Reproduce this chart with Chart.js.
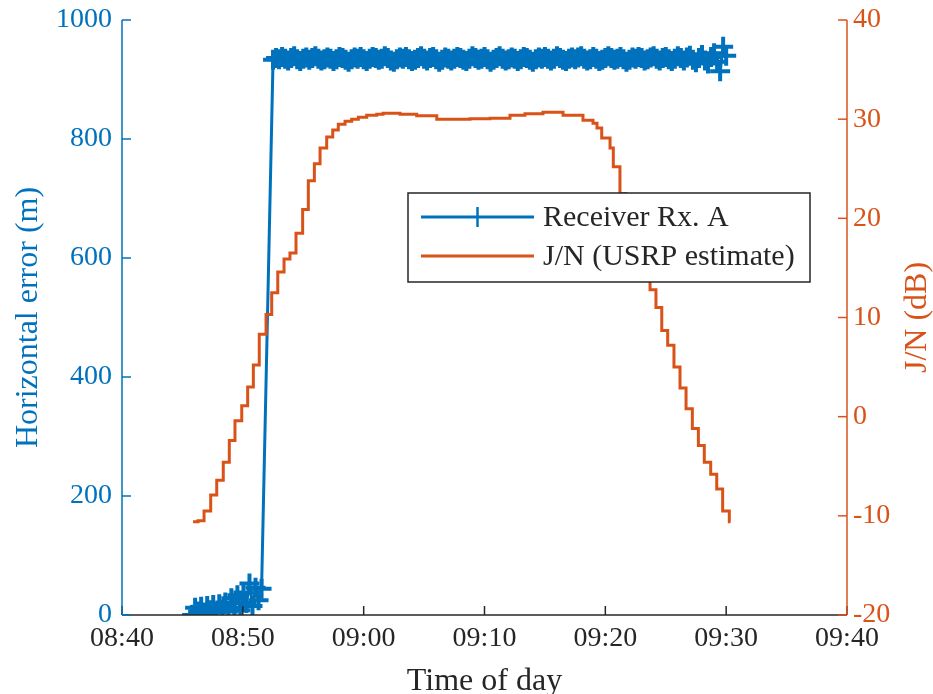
<!DOCTYPE html>
<html>
<head>
<meta charset="utf-8">
<title>Receiver horizontal error and J/N</title>
<script src="https://cdn.jsdelivr.net/npm/chart.js@4.4.1/dist/chart.umd.min.js"></script>
<style>
  html, body { margin: 0; padding: 0; background: #fff; }
  #chart { display: block; }
</style>
</head>
<body>
<canvas id="chart" width="933" height="694"></canvas>
<script>
// x values are minutes after 08:40
const xTickLabels = ["08:40", "08:50", "09:00", "09:10", "09:20", "09:30", "09:40"];

// Receiver Rx. A horizontal error (m), one fix every 15 s
const rxSampleStep = 0.25;
const rxLowStart = 5.8;
const rxLowError = [
    0, 12, 6, 14, 4, 15, 8, 17, 5, 18, 9, 21,
    6, 28, 12, 33, 8, 38, 20, 53, 15, 46, 25, 44
];
const rxHighStart = 12.5;
const rxHighError = [
    933, 936, 934, 938, 935, 932, 936, 939, 934, 931,
    935, 937, 933, 936, 939, 935, 932, 934, 937, 935,
    931, 934, 938, 936, 933, 930, 934, 937, 935, 938,
    934, 931, 935, 938, 936, 933, 935, 939, 936, 932,
    930, 934, 937, 935, 938, 934, 931, 933, 936, 939,
    935, 932, 936, 938, 934, 930, 933, 937, 935, 932,
    935, 938, 936, 933, 931, 935, 939, 936, 933, 935,
    938, 934, 930, 933, 936, 939, 935, 932, 934, 937,
    935, 931, 934, 938, 936, 933, 930, 934, 937, 935,
    938, 935, 932, 935, 939, 936, 933, 931, 935, 937,
    934, 937, 939, 935, 932, 934, 938, 935, 931, 933,
    936, 939, 936, 933, 935, 938, 934, 930, 933, 937,
    935, 938, 936, 932, 934, 937, 939, 935, 932, 936,
    938, 934, 931, 935, 939, 936, 932, 937, 940, 933,
    929, 936, 941, 932, 927, 938, 944, 930, 914, 955,
    940
];

// J/N (USRP estimate) in dB, held between updates
const jnTime = [
    5.88, 6.29, 6.79, 7.34, 7.84, 8.38, 8.88, 9.35, 9.91, 10.40,
    10.87, 11.36, 11.92, 12.39, 12.89, 13.41, 13.90, 14.40, 14.95, 15.42,
    15.92, 16.39, 16.94, 17.44, 17.90, 18.46, 19.01, 19.56, 20.25, 21.08,
    21.60, 23.01, 24.39, 26.05, 27.15, 28.80, 30.46, 32.11, 33.35, 34.84,
    36.50, 38.15, 38.98, 39.31, 39.70, 40.39, 40.66, 41.21, 41.71, 42.21,
    42.70, 43.20, 43.70, 44.19, 44.67, 45.16, 45.68, 46.18, 46.68, 47.20,
    47.70, 48.19, 48.72, 49.22, 49.71, 50.26, 50.36
];
const jnDb = [
    -10.6, -10.5, -9.5, -7.9, -6.4, -4.6, -2.4, -0.4, 1.1, 3.0,
    5.2, 8.3, 10.3, 12.5, 14.6, 15.9, 16.5, 18.5, 20.9, 23.8,
    25.5, 27.1, 28.2, 28.9, 29.5, 29.8, 30.0, 30.2, 30.4, 30.5,
    30.6, 30.5, 30.35, 30.0, 30.0, 30.05, 30.1, 30.4, 30.55, 30.7,
    30.4, 29.9, 29.6, 29.1, 28.1, 27.1, 25.2, 22.5, 20.0, 17.8,
    16.2, 14.6, 12.8, 11.0, 8.7, 7.2, 5.0, 2.9, 0.8, -1.2,
    -2.9, -4.6, -5.8, -7.3, -9.5, -10.6, -10.6
];

const blue = "#0072BD";
const orange = "#D95319";
const axisGray = "#262626";
const serif = "'Liberation Serif', 'Times New Roman', serif";

Chart.defaults.font.family = serif;

const rxPoints = [];
rxLowError.forEach((v, i) => rxPoints.push({ x: rxLowStart + i * rxSampleStep, y: v }));
rxHighError.forEach((v, i) => rxPoints.push({ x: rxHighStart + i * rxSampleStep, y: v }));
const jnPoints = jnTime.map((t, i) => ({ x: t, y: jnDb[i] }));

function strokeLine(ctx, x1, y1, x2, y2) {
    ctx.beginPath();
    ctx.moveTo(x1, y1);
    ctx.lineTo(x2, y2);
    ctx.stroke();
}

// keep the plot box where it is, labels may hang over the top edge
function noVerticalPadding(s) {
    s.paddingTop = 0;
    s.paddingBottom = 0;
}

// MATLAB style axes: coloured axis lines with inward ticks
const axesPlugin = {
    id: "matlabAxes",
    afterDatasetsDraw(chart) {
        const { ctx, chartArea: a, scales } = chart;
        const tickLen = 9;
        ctx.save();
        ctx.lineWidth = 1.5;

        ctx.strokeStyle = axisGray;
        strokeLine(ctx, a.left, a.bottom, a.right, a.bottom);
        scales.x.ticks.forEach(t => {
            const px = scales.x.getPixelForValue(t.value);
            strokeLine(ctx, px, a.bottom, px, a.bottom - tickLen);
        });

        ctx.strokeStyle = blue;
        strokeLine(ctx, a.left, a.top, a.left, a.bottom);
        scales.y.ticks.forEach(t => {
            const py = scales.y.getPixelForValue(t.value);
            strokeLine(ctx, a.left, py, a.left + tickLen, py);
        });

        ctx.strokeStyle = orange;
        strokeLine(ctx, a.right, a.top, a.right, a.bottom);
        scales.y2.ticks.forEach(t => {
            const py = scales.y2.getPixelForValue(t.value);
            strokeLine(ctx, a.right, py, a.right - tickLen, py);
        });

        // right axis label reads bottom to top like the left one
        ctx.translate(918, (a.top + a.bottom) / 2);
        ctx.rotate(-Math.PI / 2);
        ctx.fillStyle = orange;
        ctx.font = "32px " + serif;
        ctx.textAlign = "center";
        ctx.textBaseline = "middle";
        ctx.fillText("J/N (dB)", 0, 0);
        ctx.restore();
    }
};

// boxed legend inside the plot, drawn over the data
const legendPlugin = {
    id: "boxLegend",
    afterDraw(chart) {
        const ctx = chart.ctx;
        const box = { left: 408, top: 193, right: 810, bottom: 282 };
        ctx.save();
        ctx.fillStyle = "#fff";
        ctx.fillRect(box.left, box.top, box.right - box.left, box.bottom - box.top);
        ctx.strokeStyle = axisGray;
        ctx.lineWidth = 1.5;
        ctx.strokeRect(box.left, box.top, box.right - box.left, box.bottom - box.top);

        chart.data.datasets.forEach((ds, i) => {
            const yy = 217 + i * 39;
            ctx.strokeStyle = ds.borderColor;
            ctx.lineWidth = 3;
            strokeLine(ctx, 421, yy, 534, yy);
            if (ds.pointStyle === "cross") {
                ctx.lineWidth = 2.5;
                strokeLine(ctx, 477.5, yy - 10, 477.5, yy + 10);
            }
            ctx.fillStyle = axisGray;
            ctx.font = "30px " + serif;
            ctx.textAlign = "left";
            ctx.textBaseline = "middle";
            ctx.fillText(ds.label, 543, yy + 1);
        });
        ctx.restore();
    }
};

new Chart(document.getElementById("chart"), {
    type: "line",
    data: {
        datasets: [
            {
                label: "Receiver Rx. A",
                data: rxPoints,
                yAxisID: "y",
                borderColor: blue,
                backgroundColor: blue,
                borderWidth: 3,
                pointStyle: "cross",
                pointRadius: 10,
                pointBorderWidth: 4,
                pointBorderColor: blue,
                tension: 0,
                clip: 0,
                order: 2
            },
            {
                label: "J/N (USRP estimate)",
                data: jnPoints,
                yAxisID: "y2",
                borderColor: orange,
                backgroundColor: orange,
                borderWidth: 3,
                pointRadius: 0,
                stepped: true,
                tension: 0,
                order: 1
            }
        ]
    },
    options: {
        responsive: false,
        animation: false,
        devicePixelRatio: 1,
        layout: { padding: { top: 20, left: 0, right: 0, bottom: 0 } },
        plugins: {
            legend: { display: false },
            tooltip: { enabled: false }
        },
        scales: {
            x: {
                type: "linear",
                position: "bottom",
                min: 0,
                max: 60,
                grid: { display: false, drawTicks: false },
                border: { display: false },
                ticks: {
                    stepSize: 10,
                    autoSkip: false,
                    maxRotation: 0,
                    color: axisGray,
                    font: { size: 28 },
                    padding: 7,
                    callback: (v, i) => xTickLabels[i]
                },
                title: {
                    display: true,
                    text: "Time of day",
                    color: axisGray,
                    font: { size: 32, lineHeight: 0.8 },
                    padding: { top: 0, bottom: 0 }
                },
                afterFit: s => { s.height = 79; }
            },
            y: {
                position: "left",
                min: 0,
                max: 1000,
                grid: { display: false, drawTicks: false },
                border: { display: false },
                ticks: {
                    stepSize: 200,
                    color: blue,
                    font: { size: 28 },
                    padding: 10,
                    callback: v => String(v)
                },
                title: {
                    display: true,
                    text: "Horizontal error (m)",
                    color: blue,
                    font: { size: 32 },
                    padding: { top: 9, bottom: 0 }
                },
                afterFit: s => { s.width = 122; noVerticalPadding(s); }
            },
            y2: {
                position: "right",
                min: -20,
                max: 40,
                grid: { display: false, drawTicks: false },
                border: { display: false },
                ticks: {
                    stepSize: 10,
                    color: orange,
                    font: { size: 28 },
                    padding: 6,
                    callback: v => String(v)
                },
                afterFit: s => { s.width = 86; noVerticalPadding(s); }
            }
        }
    },
    plugins: [axesPlugin, legendPlugin]
});
</script>
</body>
</html>
